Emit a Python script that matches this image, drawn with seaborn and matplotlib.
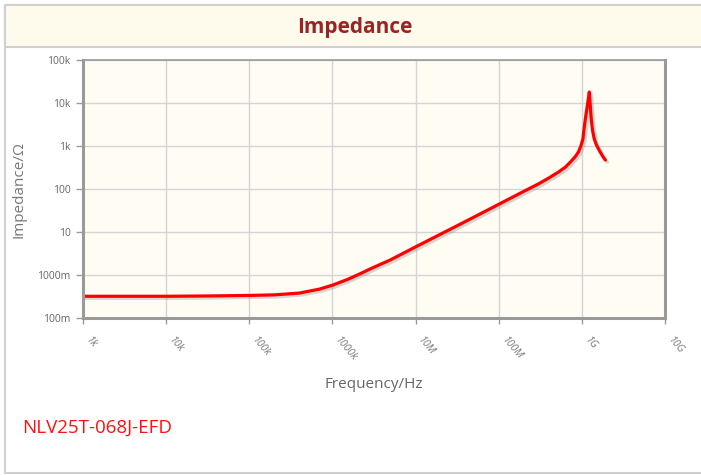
import matplotlib
matplotlib.use("Agg")
import matplotlib.pyplot as plt
import matplotlib.patheffects as pe
from matplotlib.patches import Rectangle
import seaborn as sns

# values
freqHz = [1e3, 3e3, 1e4, 3e4, 1e5, 2e5, 4e5, 7e5, 1e6, 1.5e6, 2e6, 3e6, 5e6,
          1e7, 2e7, 5e7, 1e8, 2e8, 3e8, 4e8, 5.25e8, 6.3e8, 7.3e8, 8.3e8,
          9.1e8, 9.7e8, 1.03e9, 1.06e9, 1.1e9, 1.15e9, 1.2e9, 1.23e9, 1.26e9,
          1.3e9, 1.35e9, 1.41e9, 1.5e9, 1.66e9, 1.8e9, 1.92e9]
impedanceOhm = [0.32, 0.32, 0.32, 0.325, 0.335, 0.345, 0.38, 0.47, 0.58, 0.78,
                1.0, 1.45, 2.25, 4.5, 8.9, 22, 44, 88, 131, 180, 249, 320,
                425, 560, 725, 980, 1450, 2400, 4200, 7500, 13000, 18000, 9000,
                4000, 2200, 1450, 1050, 725, 560, 470]

xTicks = [1e3, 1e4, 1e5, 1e6, 1e7, 1e8, 1e9, 1e10]
xTickLabels = ["1k", "10k", "100k", "1000k", "10M", "100M", "1G", "10G"]
yTicks = [0.1, 1, 10, 100, 1e3, 1e4, 1e5]
yTickLabels = ["100m", "1000m", "10", "100", "1k", "10k", "100k"]

partName = "NLV25T-068J-EFD"

sns.set_style("white")
plt.rcParams["font.family"] = ["Open Sans", "DejaVu Sans"]

fig = plt.figure(figsize=(7.01, 4.75), dpi=100)
W, H = 701, 475

# outer frame and title band (behind the axes)
fig.patches.append(Rectangle((5 / W, 1 - 473 / H), 800 / W, 468 / H,
                             transform=fig.transFigure, facecolor="white",
                             edgecolor="#d0d0d0", linewidth=1.5, zorder=-2))
fig.patches.append(Rectangle((5 / W, 1 - 47 / H), 800 / W, 42 / H,
                             transform=fig.transFigure, facecolor="#fefaec",
                             edgecolor="#d0d0d0", linewidth=1.5, zorder=-1))
fig.text(355 / W, 1 - 27 / H, "Impedance", ha="center", va="center",
         fontsize=15, fontweight="bold", color="#9b2323")

ax = fig.add_axes([83 / W, 1 - 318 / H, 582 / W, 258 / H])
ax.set_facecolor("#fffcf3")

sns.lineplot(x=freqHz, y=impedanceOhm, ax=ax, color="#ff0000", linewidth=2.3,
             estimator=None, sort=False,
             path_effects=[pe.SimpleLineShadow(offset=(1.5, -1.5), shadow_color="#666666", alpha=0.25),
                           pe.Normal()])

ax.set_xscale("log")
ax.set_yscale("log")
ax.set_xlim(1e3, 1e10)
ax.set_ylim(0.1, 1e5)
ax.set_xticks(xTicks)
ax.set_xticklabels(xTickLabels, rotation=-50, ha="left", va="top",
                   fontsize=7.5, color="#777777", fontstyle="italic")
ax.set_yticks(yTicks)
ax.set_yticklabels(yTickLabels, fontsize=7.5, color="#666666")
ax.minorticks_off()
ax.grid(True, color="#d4d4d4", linewidth=1)
ax.tick_params(axis="y", length=5, width=1, color="#999999", left=True, pad=4)
ax.tick_params(axis="x", length=4, width=1, color="#999999", bottom=True, pad=8)

for side in ["left", "bottom", "top", "right"]:
    ax.spines[side].set_color("#9a9a9a")
    ax.spines[side].set_linewidth(2.2)
ax.spines["top"].set_linewidth(1.2)

ax.set_xlabel("Frequency/Hz", fontsize=11, color="#666666", labelpad=10)
ax.set_ylabel("Impedance/Ω", fontsize=11, color="#777777", labelpad=8)

fig.text(22 / W, 1 - 428 / H, partName, ha="left", va="center",
         fontsize=13.5, color="#ff1010")

fig.savefig("out.png", dpi=100)
